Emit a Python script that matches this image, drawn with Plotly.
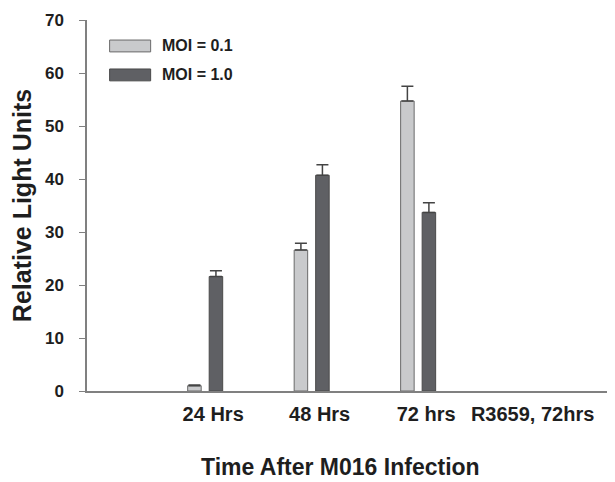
import plotly.graph_objects as go

categories = ["24 Hrs", "48 Hrs", "72 hrs", "R3659, 72hrs"]
moi_01 = [1.0, 26.6, 54.7, None]
moi_01_err = [0.15, 1.3, 2.8, None]
moi_10 = [21.6, 40.7, 33.7, None]
moi_10_err = [1.1, 2.0, 1.8, None]
y_ticks = [0, 10, 20, 30, 40, 50, 60, 70]

light = "#c9cacc"
dark = "#5f6064"
font = "Liberation Sans"
txt = "#1e1e1e"

fig = go.Figure()
fig.add_trace(go.Bar(
    x=categories, y=moi_01, name="MOI = 0.1",
    marker=dict(color=light, line=dict(color="#6a6a6a", width=1)),
    error_y=dict(type="data", array=moi_01_err, symmetric=False, arrayminus=[0]*4,
                 color="#444444", thickness=1.5, width=6),
))
fig.add_trace(go.Bar(
    x=categories, y=moi_10, name="MOI = 1.0",
    marker=dict(color=dark, line=dict(color="#4a4a4a", width=1)),
    error_y=dict(type="data", array=moi_10_err, symmetric=False, arrayminus=[0]*4,
                 color="#444444", thickness=1.5, width=6),
))

# legend drawn manually to get wide rectangular keys
legend_items = [("MOI = 0.1", light, "#6a6a6a", 0.946, 0.914),
                ("MOI = 1.0", dark, "#4a4a4a", 0.868, 0.836)]
for label, fc, lc, y1, y0 in legend_items:
    fig.add_shape(type="rect", xref="paper", yref="paper",
                  x0=0.043, x1=0.121, y0=y0, y1=y1,
                  fillcolor=fc, line=dict(color=lc, width=1))
    fig.add_annotation(xref="paper", yref="paper", x=0.138, y=(y0 + y1) / 2,
                       text=label, showarrow=False, xanchor="left", yanchor="middle",
                       font=dict(family=font, size=16, color=txt, weight="bold"))

# x-axis title (placed slightly left of plot centre as in the reference)
fig.add_annotation(xref="paper", yref="paper", x=0.481, y=-0.205,
                   text="Time After M016 Infection", showarrow=False,
                   xanchor="center", yanchor="middle",
                   font=dict(family=font, size=23, color=txt, weight="bold"))

fig.update_layout(
    width=607, height=474,
    margin=dict(l=79, r=2, t=12, b=91),
    paper_bgcolor="white", plot_bgcolor="white",
    barmode="group", bargap=0.596, bargroupgap=0.372,
    showlegend=False,
    font=dict(family=font, color=txt),
)
fig.update_xaxes(
    range=[-1.11, 3.83], showline=True, linecolor="#808080", linewidth=1.5,
    ticks="", showgrid=False, zeroline=False, automargin=False,
    tickfont=dict(family=font, size=20, color=txt, weight="bold"),
    ticklabelshift=8, ticklabelstandoff=4,
)
fig.update_yaxes(
    range=[0, 70], tickvals=y_ticks, showline=True, linecolor="#808080", linewidth=1.5,
    ticks="outside", ticklen=6, tickcolor="#808080", showgrid=False, zeroline=False,
    automargin=False,
    tickfont=dict(family=font, size=17, color=txt, weight="bold"),
    ticklabelstandoff=12,
    title=dict(text="Relative Light Units",
               font=dict(family=font, size=25, color=txt, weight="bold"),
               standoff=10),
)

fig.write_html("out.html")
